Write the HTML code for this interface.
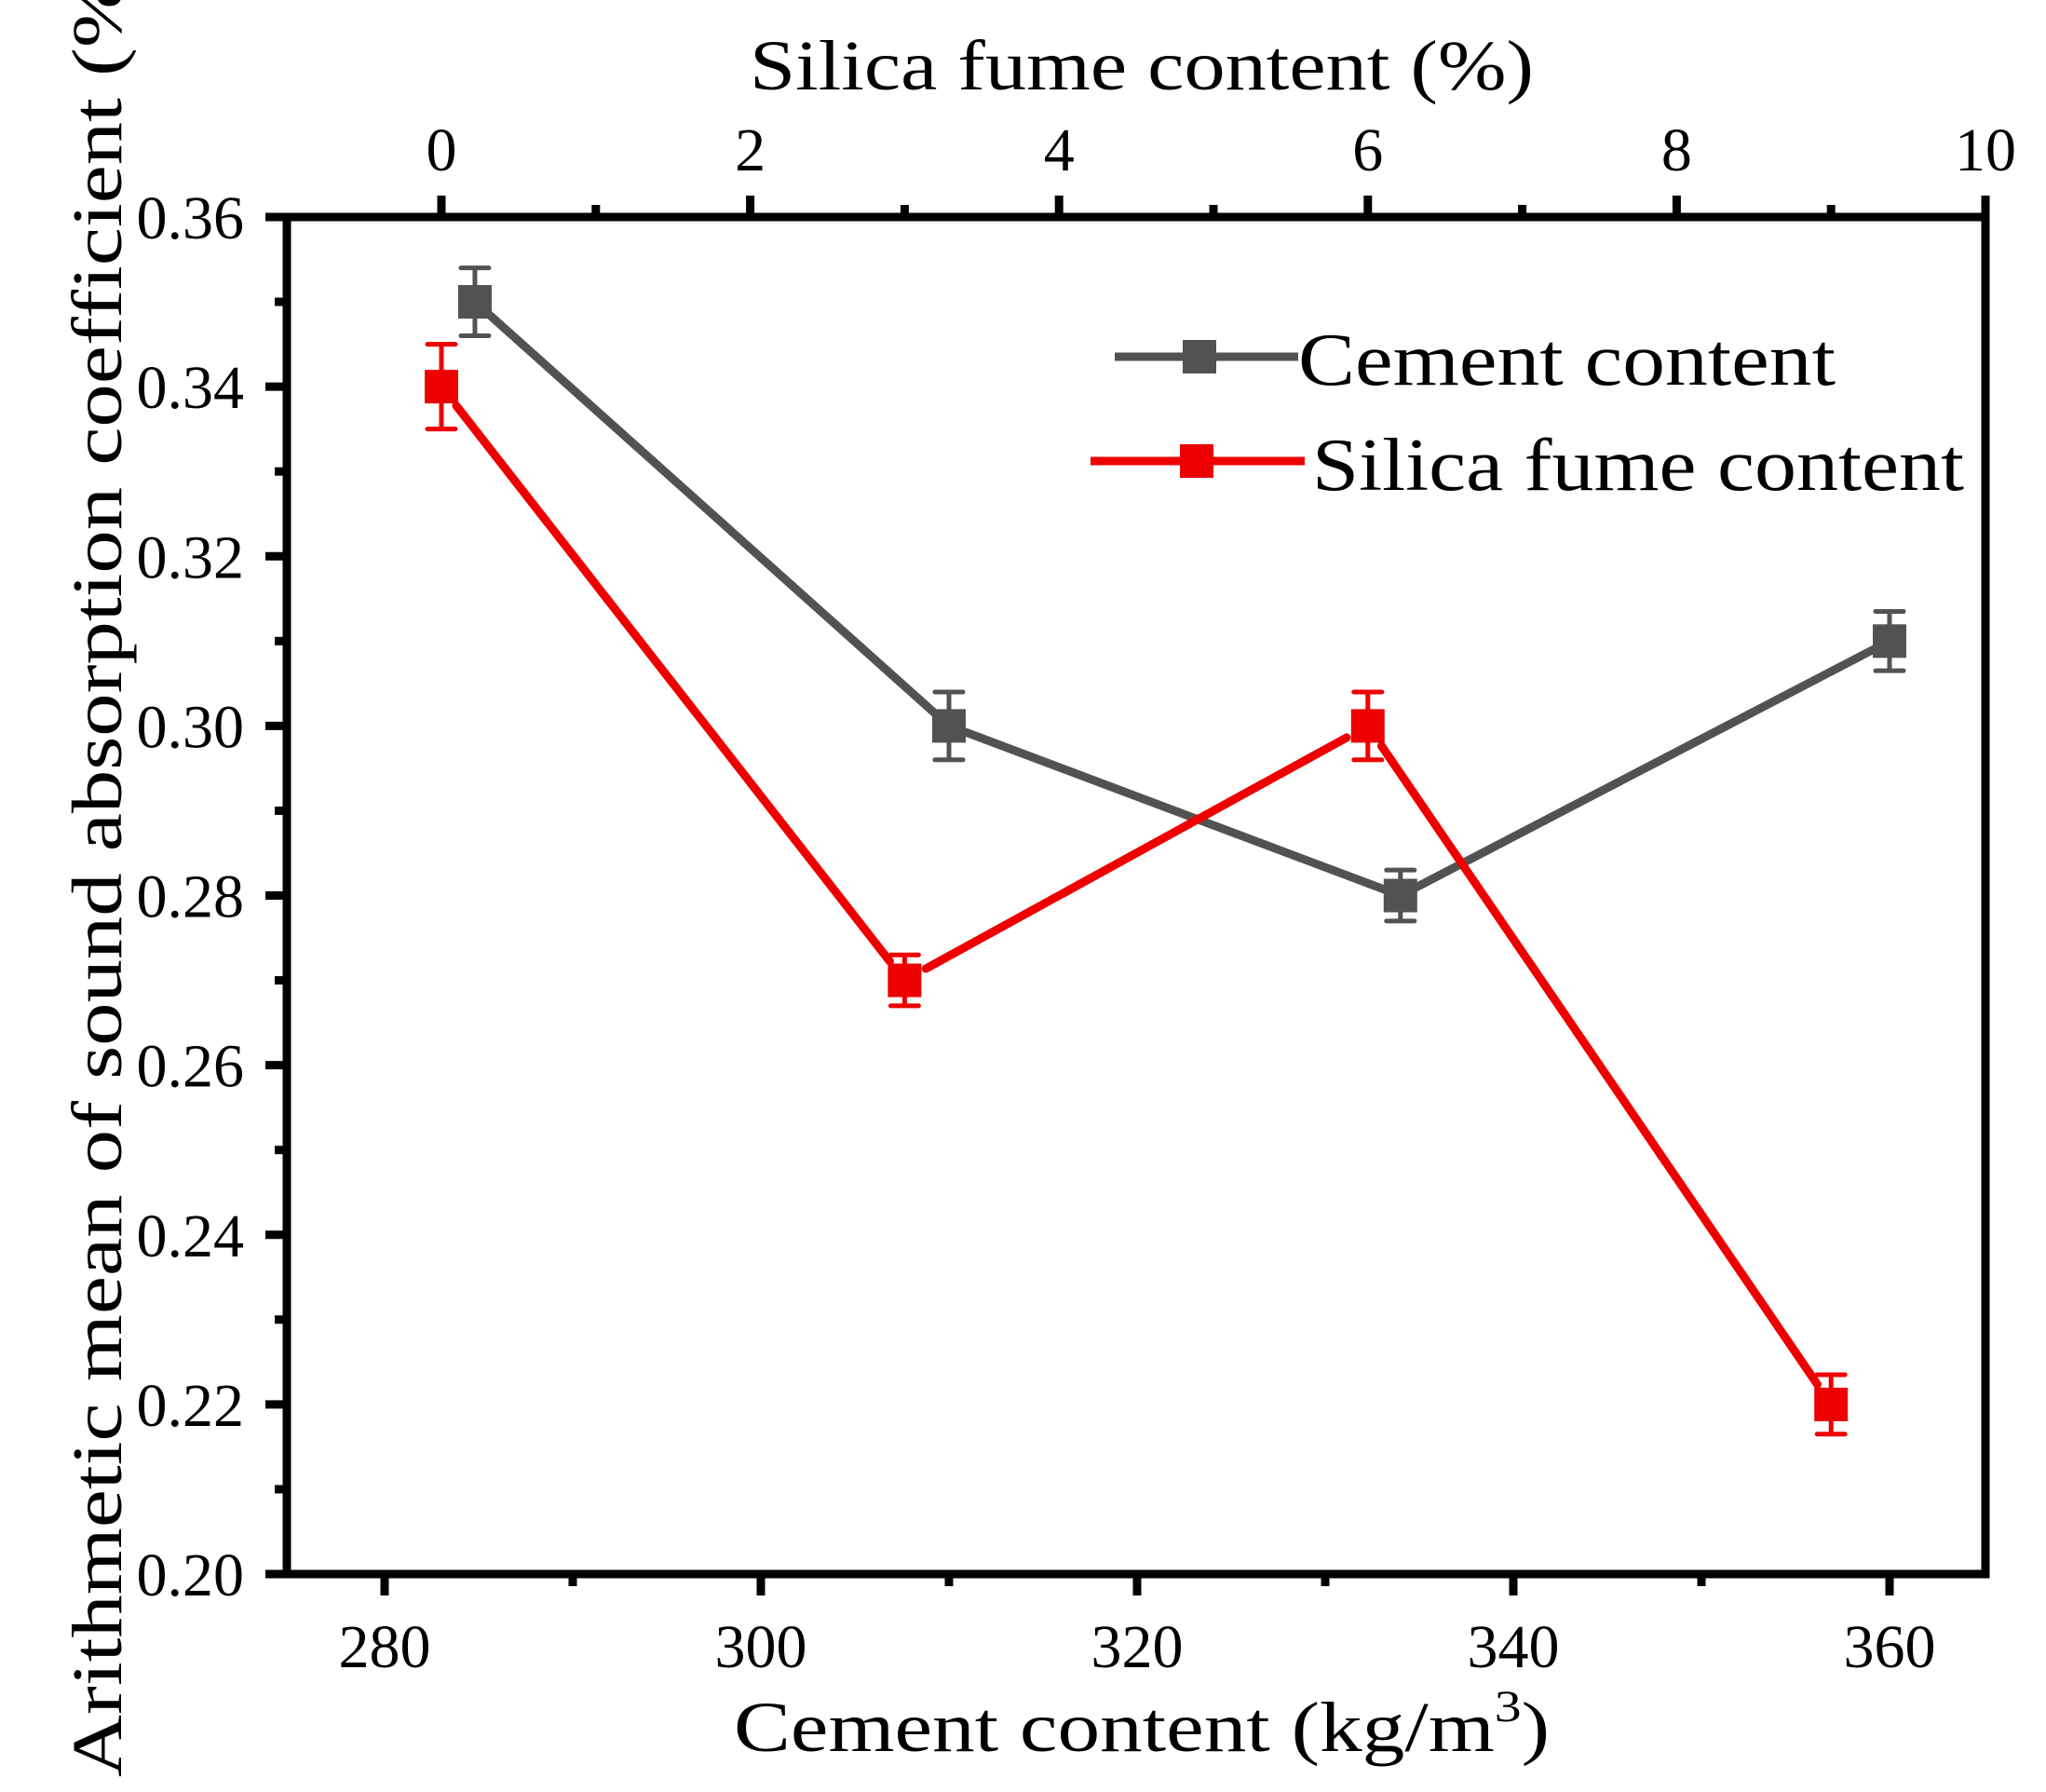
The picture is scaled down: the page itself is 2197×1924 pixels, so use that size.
<!DOCTYPE html>
<html><head><meta charset="utf-8"><style>
html,body{margin:0;padding:0;background:#fff;}
svg{display:block;font-family:"Liberation Serif",serif;}
</style></head><body>
<svg id="chart" width="2197" height="1924" viewBox="0 0 2197 1924">
<g id="axes"></g>
<g id="series"></g>
<g id="legend">
  <line x1="1197" y1="383" x2="1394" y2="383" stroke="#525252" stroke-width="9"/>
  <rect x="1270" y="365" width="36" height="36" fill="#525252"/>
  <text x="1394" y="413" font-size="80" textLength="577" lengthAdjust="spacingAndGlyphs">Cement content</text>
  <line x1="1171" y1="495" x2="1401" y2="495" stroke="#ee0000" stroke-width="9"/>
  <rect x="1267" y="477" width="36" height="36" fill="#ee0000"/>
  <text x="1409" y="526" font-size="80" textLength="700" lengthAdjust="spacingAndGlyphs">Silica fume content</text>
</g>
<text x="1226" y="96" font-size="76" text-anchor="middle" textLength="842" lengthAdjust="spacingAndGlyphs">Silica fume content (%)</text>
<text x="788" y="1880" font-size="76" textLength="876" lengthAdjust="spacingAndGlyphs">Cement content (kg/m<tspan font-size="48" dy="-32">3</tspan><tspan dy="32">)</tspan></text>
<text transform="translate(130,1908) rotate(-90)" x="0" y="0" font-size="76" textLength="1965" lengthAdjust="spacingAndGlyphs">Arithmetic mean of sound absorption coefficient (%)</text>
</svg>
<script>
const cementX = [284.8, 310.0, 334.0, 360.0];
const cementY = [0.35, 0.30, 0.28, 0.31];
const cementErr = [0.004, 0.004, 0.003, 0.0035];
const silicaX = [0, 3, 6, 9];
const silicaY = [0.34, 0.27, 0.30, 0.22];
const silicaErr = [0.005, 0.003, 0.004, 0.0035];
const yTicks = [0.20, 0.22, 0.24, 0.26, 0.28, 0.30, 0.32, 0.34, 0.36];
const bottomTicks = [280, 300, 320, 340, 360];
const topTicks = [0, 2, 4, 6, 8, 10];

const NS = "http://www.w3.org/2000/svg";
const L = 308, R = 2132, T = 233, B = 1690;
const sy = v => T + (0.36 - v) / 0.16 * (B - T);
const sxB = v => 1625 + (v - 340) * 20.2;
const sxT = v => 474 + v * 165.8;

function mk(parent, tag, attrs) {
  const e = document.createElementNS(NS, tag);
  for (const k in attrs) e.setAttribute(k, attrs[k]);
  parent.appendChild(e);
  return e;
}
const ax = document.getElementById('axes');
let e;
e = mk(ax, 'rect', {x: L, y: T, width: R - L, height: B - T, fill: 'none', stroke: '#000', 'stroke-width': 9});



for (let v = 0.20; v <= 0.3601; v += 0.01) {
  const y = sy(v);
  const major = Math.round(v * 100) % 2 === 0;
  e = mk(ax, 'line', {x1: L - (major ? 23 : 13), x2: L, y1: y, y2: y, stroke: '#000', 'stroke-width': 9});
  
  
}
yTicks.forEach(v => {
  e = mk(ax, 'text', {x: 262, y: sy(v) + 23, 'font-size': 66, 'text-anchor': 'end'});
  e.textContent = v.toFixed(2);
  
  
});
for (let v = 280; v <= 360; v += 10) {
  const x = sxB(v);
  const major = v % 20 === 0;
  e = mk(ax, 'line', {x1: x, x2: x, y1: B, y2: B + (major ? 23 : 13), stroke: '#000', 'stroke-width': 9});
  
  
}
bottomTicks.forEach(v => {
  e = mk(ax, 'text', {x: sxB(v), y: 1790, 'font-size': 66, 'text-anchor': 'middle'});
  e.textContent = v;
  
  
});
for (let v = 0; v <= 10; v += 1) {
  const x = sxT(v);
  const major = v % 2 === 0;
  e = mk(ax, 'line', {x1: x, x2: x, y1: T, y2: T - (major ? 23 : 13), stroke: '#000', 'stroke-width': 9});
  
  
}
topTicks.forEach(v => {
  e = mk(ax, 'text', {x: sxT(v), y: 183, 'font-size': 66, 'text-anchor': 'middle'});
  e.textContent = v;
  
  
});

const sg = document.getElementById('series');
function drawSeries(xs, ys, errs, sx, color, name, gap) {
  for (let i = 0; i < xs.length - 1; i++) {
    let x1 = sx(xs[i]), y1 = sy(ys[i]), x2 = sx(xs[i + 1]), y2 = sy(ys[i + 1]);
    const d = Math.hypot(x2 - x1, y2 - y1), ux = (x2 - x1) / d, uy = (y2 - y1) / d;
    e = mk(sg, 'line', {x1: x1 + ux * gap, y1: y1 + uy * gap, x2: x2 - ux * gap, y2: y2 - uy * gap, stroke: color, 'stroke-width': 9, 'stroke-linecap': 'round'});
    
    
  }
  xs.forEach((xv, i) => {
    const x = sx(xv), y = sy(ys[i]), yt = sy(ys[i] + errs[i]), yb = sy(ys[i] - errs[i]);
    const g = mk(sg, 'g', {});
    
    
    mk(g, 'line', {x1: x, x2: x, y1: yt, y2: yb, stroke: color, 'stroke-width': 5});
    mk(g, 'line', {x1: x - 15, x2: x + 15, y1: yt, y2: yt, stroke: color, 'stroke-width': 5, 'stroke-linecap': 'round'});
    mk(g, 'line', {x1: x - 15, x2: x + 15, y1: yb, y2: yb, stroke: color, 'stroke-width': 5, 'stroke-linecap': 'round'});
    e = mk(sg, 'rect', {x: x - 18, y: y - 18, width: 36, height: 36, fill: color});
    
    
  });
}
drawSeries(cementX, cementY, cementErr, sxB, '#525252', 'cement', 0);
drawSeries(silicaX, silicaY, silicaErr, sxT, '#ee0000', 'silica', 26);
</script>
</body></html>
